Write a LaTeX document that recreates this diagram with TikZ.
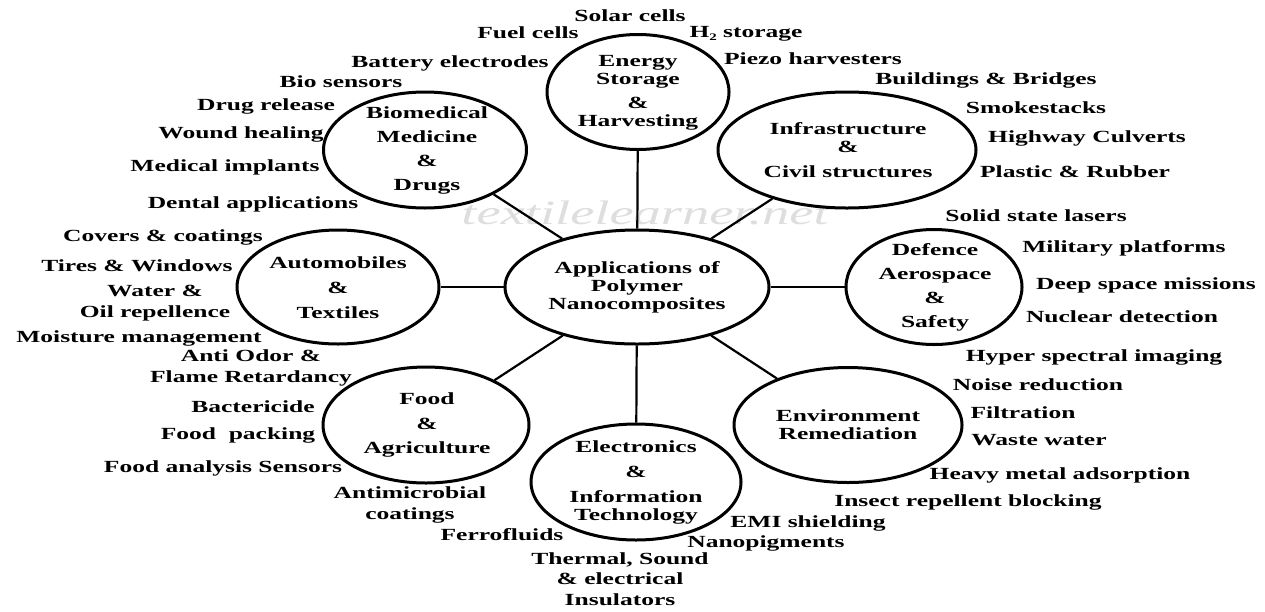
\documentclass[tikz,border=0pt]{standalone}
\usepackage{fontspec}
\usetikzlibrary{shapes.geometric}
\newfontfamily\labfont{Liberation Serif}[FakeStretch=1.5]
\newfontfamily\wmfont{Liberation Serif}[FakeStretch=1.6]
\tikzset{
  hub/.style={ellipse, draw, line width=3pt, inner sep=0pt, fill=none},
  hubtxt/.style={align=center, inner sep=0pt, font=\labfont\bfseries\fontsize{17}{18}\selectfont},
  lab/.style={inner sep=0pt, text height=12pt, text depth=4pt, font=\labfont\bfseries\fontsize{17}{18}\selectfont},
  labm/.style={align=center, inner sep=0pt, font=\labfont\bfseries\fontsize{17}{20.5}\selectfont},
  conn/.style={line width=2.2pt},
  wm/.style={inner sep=0pt, text=black!13, font=\wmfont\itshape\fontsize{34}{36}\selectfont}
}
\begin{document}
\begin{tikzpicture}[x=1pt,y=-1pt]
\useasboundingbox[fill=white] (0,0) rectangle (1265,611);
% watermark
\node[wm] (wmark) at (645,213) {textilelearner.net};
% hubs
\node[hub, minimum width=264pt, minimum height=114pt] (c) at (637,287) {};
\node[hub, minimum width=182pt, minimum height=115pt] (en) at (638,92) {};
\node[hub, minimum width=203pt, minimum height=116pt] (bio) at (425,150) {};
\node[hub, minimum width=258pt, minimum height=116pt] (inf) at (847,150) {};
\node[hub, minimum width=202pt, minimum height=114pt] (aut) at (338,287) {};
\node[hub, minimum width=176pt, minimum height=115pt] (def) at (934,287) {};
\node[hub, minimum width=206pt, minimum height=116pt] (food) at (426,425) {};
\node[hub, minimum width=210pt, minimum height=116pt] (ele) at (636,482) {};
\node[hub, minimum width=228pt, minimum height=115pt] (env) at (848,425) {};
% hub texts
\node[hubtxt] (c-t) at (637,287) {Applications of\\Polymer\\Nanocomposites};
\node[hubtxt] (en-t) at (638,93) {Energy\\Storage\\[6pt]\&\\Harvesting};
\node[hubtxt] (bio-t) at (427,150) {Biomedical\\[6pt]Medicine\\[6pt]\&\\[6pt]Drugs};
\node[hubtxt] (inf-t) at (848,150) {Infrastructure\\\&\\[7pt]Civil structures};
\node[hubtxt] (aut-t) at (338,288) {Automobiles\\[7pt]\&\\[7pt]Textiles};
\node[hubtxt] (def-t) at (935,287) {Defence\\[6pt]Aerospace\\[6pt]\&\\[6pt]Safety};
\node[hubtxt] (food-t) at (427,425) {Food\\[6.5pt]\&\\[6.5pt]Agriculture};
\node[hubtxt] (ele-t) at (636,482) {Electronics\\[7pt]\&\\[7pt]Information\\Technology};
\node[hubtxt] (env-t) at (848,425) {Environment\\Remediation};
% connectors
\draw[conn] (c) -- (en);
\draw[conn] (c) -- (bio);
\draw[conn] (c) -- (inf);
\draw[conn] (c) -- (aut);
\draw[conn] (c) -- (def);
\draw[conn] (c) -- (food);
\draw[conn] (c) -- (ele);
\draw[conn] (c) -- (env);
% labels
\node[lab] (l01) at (630,17) {Solar cells};
\node[lab] (l02) at (528,34) {Fuel cells};
\node[lab] (l03) at (746,33) {H\raisebox{-3pt}{\fontsize{10}{10}\selectfont 2} storage};
\node[lab] (l04) at (450,63) {Battery electrodes};
\node[lab] (l05) at (813,60) {Piezo harvesters};
\node[lab] (l06) at (341,83) {Bio sensors};
\node[lab] (l07) at (986,80) {Buildings \& Bridges};
\node[lab] (l08) at (266,106) {Drug release};
\node[lab] (l09) at (1036,109) {Smokestacks};
\node[lab] (l10) at (241,134) {Wound healing};
\node[lab] (l11) at (1087,138) {Highway Culverts};
\node[lab] (l12) at (225,167) {Medical implants};
\node[lab] (l13) at (1075,173) {Plastic \& Rubber};
\node[lab] (l14) at (253,204) {Dental applications};
\node[lab] (l15) at (1036,217) {Solid state lasers};
\node[lab] (l16) at (163,237) {Covers \& coatings};
\node[lab] (l17) at (1124,248) {Military platforms};
\node[lab] (l18) at (137,267) {Tires \& Windows};
\node[lab] (l19) at (1146,285) {Deep space missions};
\node[labm] (l20) at (155,303) {Water \&\\Oil repellence};
\node[lab] (l21) at (1122,318) {Nuclear detection};
\node[lab] (l22) at (139,338) {Moisture management};
\node[labm] (l23) at (251,368) {Anti Odor \&\\Flame Retardancy};
\node[lab] (l24) at (1094,357) {Hyper spectral imaging};
\node[lab] (l25) at (1038,386) {Noise reduction};
\node[lab] (l26) at (253,408) {Bactericide};
\node[lab] (l27) at (1023,414) {Filtration};
\node[lab] (l28) at (238,435) {Food\ \ packing};
\node[lab] (l29) at (1039,441) {Waste water};
\node[lab] (l30) at (223,468) {Food analysis Sensors};
\node[lab] (l31) at (1060,475) {Heavy metal adsorption};
\node[labm] (l32) at (410,505) {Antimicrobial\\coatings};
\node[lab] (l33) at (968,502) {Insect repellent blocking};
\node[lab] (l34) at (808,523) {EMI shielding};
\node[lab] (l35) at (502,536) {Ferrofluids};
\node[lab] (l36) at (766,543) {Nanopigments};
\node[labm] (l37) at (620,579) {Thermal, Sound\\\& electrical\\Insulators};
\end{tikzpicture}
\end{document}
